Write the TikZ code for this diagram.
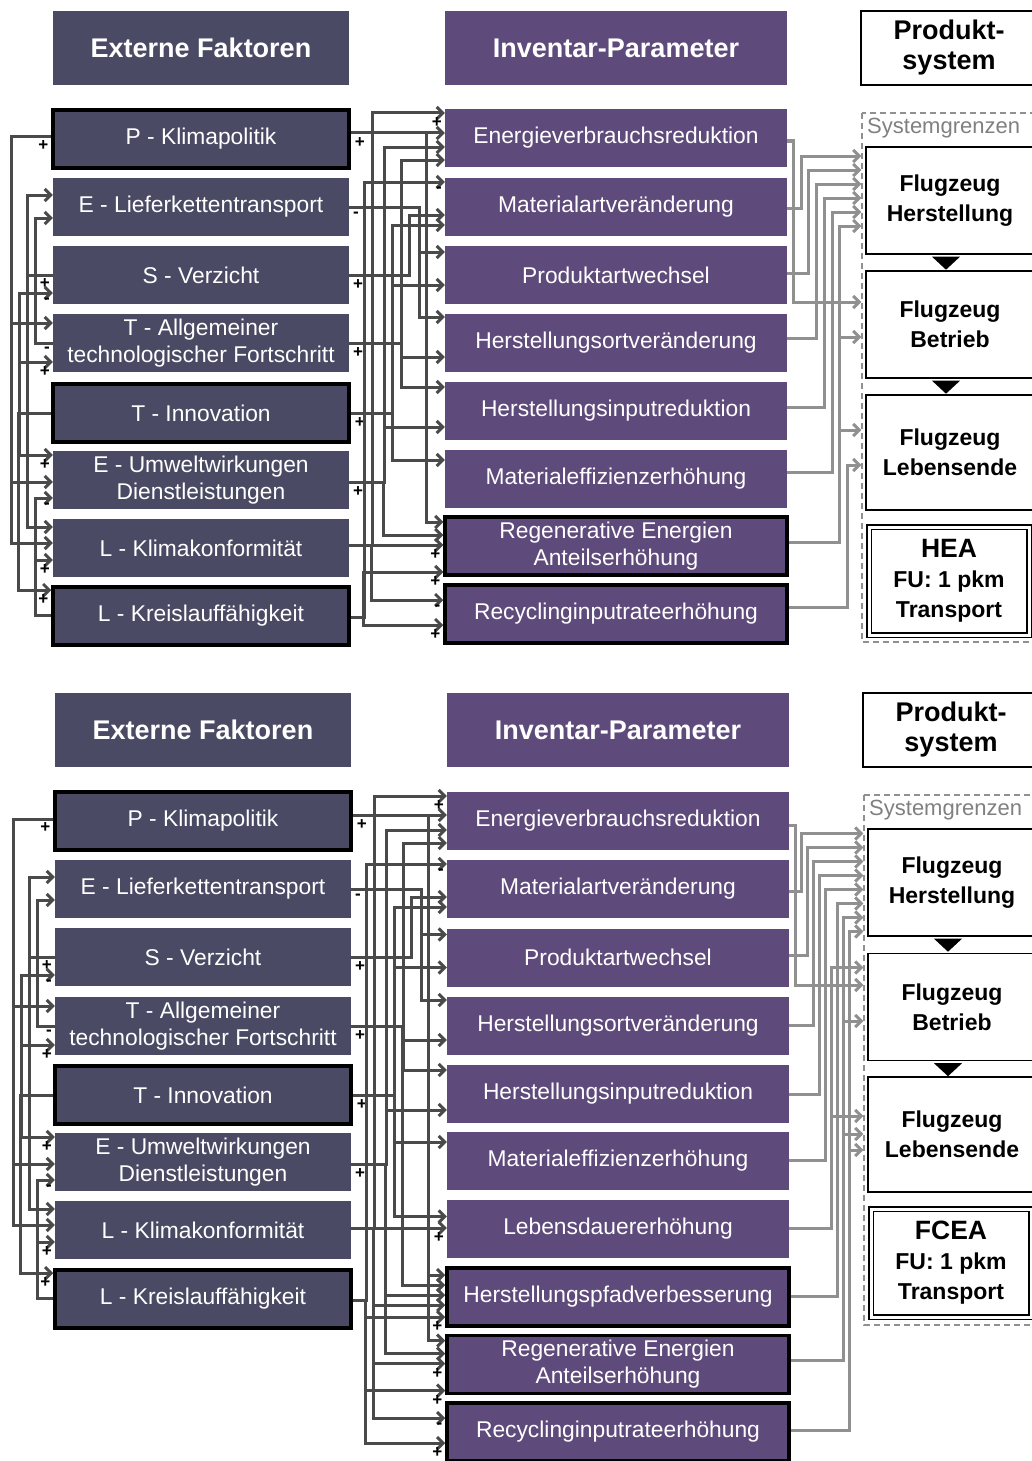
\documentclass[tikz,border=0pt]{standalone}
\usepackage{fontspec}
\setmainfont{Liberation Sans}
\usetikzlibrary{calc, arrows.meta, positioning}
\definecolor{extcol}{HTML}{4A4A64}
\definecolor{invcol}{HTML}{5F4B7B}
\definecolor{linkcol}{HTML}{4A4A4A}
\definecolor{flowcol}{HTML}{909090}
\definecolor{sgtext}{HTML}{808080}

\begin{document}
\begin{tikzpicture}[x=1pt, y=-1pt,
    extbox/.style={fill=extcol, text=white, minimum width=296pt, minimum height=58pt,
                   inner sep=0pt, align=center, font=\fontsize{22.8}{27}\selectfont},
    invbox/.style={fill=invcol, text=white, minimum width=342pt, minimum height=58pt,
                   inner sep=0pt, align=center, font=\fontsize{22.8}{27}\selectfont},
    key/.style={draw=black, line width=3.5pt},
    headbox/.style={text=white, minimum height=74pt, inner sep=0pt,
                    font=\fontsize{27}{30}\selectfont\bfseries},
    sysbox/.style={draw=black, line width=1.4pt, fill=white, minimum width=168pt,
                   inner sep=0pt, align=center, font=\fontsize{23}{30}\selectfont\bfseries},
    bound/.style={draw=flowcol, line width=1.2pt, dash pattern=on 6pt off 4pt},
    link/.style={draw=linkcol, line width=3pt, -{Straight Barb[length=6pt,width=12pt]}},
    flow/.style={draw=flowcol, line width=3pt, -{Straight Barb[length=6pt,width=12pt]}},
    sgn/.style={font=\fontsize{17}{17}\selectfont\bfseries, inner sep=0.5pt}]

  \useasboundingbox (0,0) rectangle (1032,1461);
  \clip (0,0) rectangle (1032,1461);

  % ---------------- oberes Szenario (HEA) ----------------
  \node[headbox, fill=extcol, minimum width=296pt] (tHext) at (201,48) {Externe Faktoren};
  \node[headbox, fill=invcol, minimum width=342pt] (tHinv) at (616,48) {Inventar-Parameter};
  \node[sysbox, minimum width=176pt, minimum height=74pt,
        font=\fontsize{27}{30}\selectfont\bfseries] (tHsys) at (949,48) {Produkt-\\system};

  \node[extbox, key] (tP)  at (201,139) {P - Klimapolitik};
  \node[extbox]      (tE)  at (201,207) {E - Lieferkettentransport};
  \node[extbox]      (tS)  at (201,275) {S - Verzicht};
  \node[extbox]      (tTA) at (201,343) {T - Allgemeiner\\technologischer Fortschritt};
  \node[extbox, key] (tTI) at (201,413) {T - Innovation};
  \node[extbox]      (tEU) at (201,480) {E - Umweltwirkungen\\Dienstleistungen};
  \node[extbox]      (tLK) at (201,548) {L - Klimakonformität};
  \node[extbox, key] (tLR) at (201,616) {L - Kreislauffähigkeit};

  \node[invbox]      (tEn) at (616,138) {Energieverbrauchsreduktion};
  \node[invbox]      (tMa) at (616,207) {Materialartveränderung};
  \node[invbox]      (tPr) at (616,275) {Produktartwechsel};
  \node[invbox]      (tHo) at (616,343) {Herstellungsortveränderung};
  \node[invbox]      (tHi) at (616,411) {Herstellungsinputreduktion};
  \node[invbox]      (tMe) at (616,479) {Materialeffizienzerhöhung};
  \node[invbox, key] (tRe) at (616,546) {Regenerative Energien\\Anteilserhöhung};
  \node[invbox, key] (tRc) at (616,614) {Recyclinginputrateerhöhung};

  \draw[bound] (862,113) rectangle (1040,642);
  \node[anchor=west, inner sep=0pt, text=sgtext, font=\fontsize{22}{24}\selectfont]
        (tSg) at (867,128) {Systemgrenzen};
  \node[sysbox, minimum height=107pt] (tFH) at (950,200.5) {Flugzeug\\Herstellung};
  \node[sysbox, minimum height=107pt] (tFB) at (950,324.5) {Flugzeug\\Betrieb};
  \node[sysbox, minimum height=115pt] (tFL) at (950,452.5) {Flugzeug\\Lebensende};
  \node[sysbox, double, double distance=3pt, line width=1.2pt, minimum width=160pt,
        minimum height=108pt] (tHEA) at (949,581)
        {{\fontsize{26.5}{30}\selectfont HEA}\\FU: 1 pkm\\Transport};
  \fill (tFH.south) ++(-18,2) -- ++(28,0) -- ++(-14,13) -- cycle;
  \fill (tFB.south) ++(-18,2) -- ++(28,0) -- ++(-14,13) -- cycle;

  % Rückkopplungen externe Faktoren
  \draw[link] ($(tP.west)+(0,-2)$) node[sgn, below left=2pt and 1pt]{+} -| ($(tTA.west)+(-41,-20)$) -- ($(tTA.west)+(0,-20)$);
  \draw[link] ($(tP.west)+(0,-2)$) -| ($(tEU.west)+(-41,2)$) -- ($(tEU.west)+(0,2)$);
  \draw[link] ($(tP.west)+(0,-2)$) -| ($(tLK.west)+(-41,-5)$) -- ($(tLK.west)+(0,-5)$);
  \draw[link] (tS.west) node[sgn, below left=2pt and 1pt]{+} -| ($(tE.west)+(-25,-12)$) -- ($(tE.west)+(0,-12)$);
  \draw[link] (tS.west) -| ($(tLK.west)+(-25,-21)$) -- ($(tLK.west)+(0,-21)$);
  \draw[link] (tTA.west) node[sgn, below left=2pt and 1pt]{-} -| ($(tE.west)+(-17,11)$) -- ($(tE.west)+(0,11)$);
  \draw[link] (tTI.west) -| ($(tS.west)+(-33,18)$) -- ($(tS.west)+(0,18)$) node[sgn, below left=3pt and 1pt]{-};
  \draw[link] (tTI.west) -| ($(tTA.west)+(-33,19)$) -- ($(tTA.west)+(0,19)$) node[sgn, below left=3pt and 1pt]{+};
  \draw[link] (tTI.west) -| ($(tEU.west)+(-33,-25)$) -- ($(tEU.west)+(0,-25)$) node[sgn, below left=3pt and 1pt]{+};
  \draw[link] (tTI.west) -| ($(tLR.west)+(-33,-26)$) -- ($(tLR.west)+(0,-26)$) node[sgn, below left=3pt and 1pt]{+};
  \draw[link] ($(tLR.west)+(0,-1)$) -| ($(tEU.west)+(-17,18)$) -- ($(tEU.west)+(0,18)$) node[sgn, below left=3pt and 1pt]{-};
  \draw[link] ($(tLR.west)+(0,-1)$) -| ($(tLK.west)+(-17,12)$) -- ($(tLK.west)+(0,12)$) node[sgn, below left=3pt and 1pt]{+};

  % externe Faktoren -> Inventar-Parameter
  \draw[link] ($(tP.east)+(0,-6)$) node[sgn, below right=3pt and 2pt]{+} -- ($(tEn.west)+(0,-5)$);
  \draw[link] ($(tP.east)+(0,-6)$) -| ($(tRe.west)+(-17,-24)$) -- ($(tRe.west)+(0,-24)$);
  \draw[link] (tE.east) node[sgn, below right=3pt and 2pt]{-} -| ($(tPr.west)+(-25,-23)$) -- ($(tPr.west)+(0,-23)$);
  \draw[link] (tE.east) -| ($(tHo.west)+(-25,-26)$) -- ($(tHo.west)+(0,-26)$);
  \draw[link] (tS.east) node[sgn, below right=3pt and 2pt]{+} -| ($(tMa.west)+(-35,8)$) -- ($(tMa.west)+(0,8)$);
  \draw[link] (tTA.east) node[sgn, below right=3pt and 2pt]{+} -| ($(tEn.west)+(-43,22)$) -- ($(tEn.west)+(0,22)$);
  \draw[link] (tTA.east) -| ($(tHo.west)+(-43,14)$) -- ($(tHo.west)+(0,14)$);
  \draw[link] (tTA.east) -| ($(tHi.west)+(-43,-24)$) -- ($(tHi.west)+(0,-24)$);
  \draw[link] (tTI.east) node[sgn, below right=3pt and 2pt]{+} -| ($(tMa.west)+(-52,18)$) -- ($(tMa.west)+(0,18)$);
  \draw[link] (tTI.east) -| ($(tPr.west)+(-52,10)$) -- ($(tPr.west)+(0,10)$);
  \draw[link] (tTI.east) -| ($(tMe.west)+(-52,-19)$) -- ($(tMe.west)+(0,-19)$);
  \draw[link] ($(tEU.east)+(0,2)$) node[sgn, below right=3pt and 2pt]{+} -| ($(tEn.west)+(-60,9)$) -- ($(tEn.west)+(0,9)$);
  \draw[link] ($(tEU.east)+(0,2)$) -| ($(tHi.west)+(-60,16)$) -- ($(tHi.west)+(0,16)$);
  \draw[link] ($(tEU.east)+(0,2)$) -| ($(tRe.west)+(-60,-11)$) -- ($(tRe.west)+(0,-11)$);
  \draw[link] ($(tLK.east)+(0,-3)$) -- ($(tRe.west)+(0,-1)$) node[sgn, below left=3pt and 1pt]{+};
  \draw[link] ($(tLK.east)+(0,-3)$) -| ($(tEn.west)+(-72,-25)$) -- ($(tEn.west)+(0,-25)$) node[sgn, below left=3pt and 1pt]{+};
  \draw[link] ($(tLK.east)+(0,-3)$) -| ($(tRc.west)+(-72,-14)$) -- ($(tRc.west)+(0,-14)$) node[sgn, below left=3pt and 1pt]{-};
  \draw[link] ($(tLR.east)+(0,1)$) -| ($(tMa.west)+(-80,-25)$) -- ($(tMa.west)+(0,-25)$) node[sgn, below left=3pt and 1pt]{-};
  \draw[link] ($(tLR.east)+(0,1)$) -| ($(tRe.west)+(-80,26)$) -- ($(tRe.west)+(0,26)$) node[sgn, below left=3pt and 1pt]{+};
  \draw[link] ($(tLR.east)+(0,1)$) -| ($(tRc.west)+(-80,11)$) -- ($(tRc.west)+(0,11)$) node[sgn, below left=3pt and 1pt]{+};

  % Inventar-Parameter -> Produktsystem
  \draw[flow] ($(tEn.east)+(0,3)$) -| ($(tFB.west)+(-72,-22.5)$) -- ($(tFB.west)+(-4,-22.5)$);
  \draw[flow] ($(tMa.east)+(0,1)$) -| ($(tFH.west)+(-64,-44.5)$) -- ($(tFH.west)+(-4,-44.5)$);
  \draw[flow] ($(tPr.east)+(0,-2)$) -| ($(tFH.west)+(-57,-30.5)$) -- ($(tFH.west)+(-4,-30.5)$);
  \draw[flow] ($(tHo.east)+(0,-5)$) -| ($(tFH.west)+(-49,-16.5)$) -- ($(tFH.west)+(-4,-16.5)$);
  \draw[flow] ($(tHi.east)+(0,-4)$) -| ($(tFH.west)+(-41,-2.5)$) -- ($(tFH.west)+(-4,-2.5)$);
  \draw[flow] ($(tMe.east)+(0,-7)$) -| ($(tFH.west)+(-33,11.5)$) -- ($(tFH.west)+(-4,11.5)$);
  \draw[flow] ($(tRe.east)+(0,-4)$) -| ($(tFH.west)+(-26,25.5)$) -- ($(tFH.west)+(-4,25.5)$);
  \draw[flow] ($(tRe.east)+(0,-4)$) -| ($(tFB.west)+(-26,12.5)$) -- ($(tFB.west)+(-4,12.5)$);
  \draw[flow] ($(tRe.east)+(0,-4)$) -| ($(tFL.west)+(-26,-22.5)$) -- ($(tFL.west)+(-4,-22.5)$);
  \draw[flow] ($(tRc.east)+(0,-7)$) -| ($(tFL.west)+(-18,12.5)$) -- ($(tFL.west)+(-4,12.5)$);

  % ---------------- unteres Szenario (FCEA) ----------------
  \node[headbox, fill=extcol, minimum width=296pt] (bHext) at (203,730) {Externe Faktoren};
  \node[headbox, fill=invcol, minimum width=342pt] (bHinv) at (618,730) {Inventar-Parameter};
  \node[sysbox, minimum width=176pt, minimum height=74pt,
        font=\fontsize{27}{30}\selectfont\bfseries] (bHsys) at (951,730) {Produkt-\\system};

  \node[extbox, key] (bP)  at (203,821) {P - Klimapolitik};
  \node[extbox]      (bE)  at (203,889) {E - Lieferkettentransport};
  \node[extbox]      (bS)  at (203,957) {S - Verzicht};
  \node[extbox]      (bTA) at (203,1026) {T - Allgemeiner\\technologischer Fortschritt};
  \node[extbox, key] (bTI) at (203,1095) {T - Innovation};
  \node[extbox]      (bEU) at (203,1162) {E - Umweltwirkungen\\Dienstleistungen};
  \node[extbox]      (bLK) at (203,1230) {L - Klimakonformität};
  \node[extbox, key] (bLR) at (203,1299) {L - Kreislauffähigkeit};

  \node[invbox]      (bEn) at (618,821) {Energieverbrauchsreduktion};
  \node[invbox]      (bMa) at (618,889) {Materialartveränderung};
  \node[invbox]      (bPr) at (618,957.5) {Produktartwechsel};
  \node[invbox]      (bHo) at (618,1026) {Herstellungsortveränderung};
  \node[invbox]      (bHi) at (618,1094) {Herstellungsinputreduktion};
  \node[invbox]      (bMe) at (618,1161) {Materialeffizienzerhöhung};
  \node[invbox]      (bLd) at (618,1228.5) {Lebensdauererhöhung};
  \node[invbox, key] (bHp) at (618,1297) {Herstellungspfadverbesserung};
  \node[invbox, key] (bRe) at (618,1364.5) {Regenerative Energien\\Anteilserhöhung};
  \node[invbox, key] (bRc) at (618,1432) {Recyclinginputrateerhöhung};

  \draw[bound] (864,795) rectangle (1042,1325);
  \node[anchor=west, inner sep=0pt, text=sgtext, font=\fontsize{22}{24}\selectfont]
        (bSg) at (869,810) {Systemgrenzen};
  \node[sysbox, minimum height=107pt] (bFH) at (952,882.5) {Flugzeug\\Herstellung};
  \node[sysbox, minimum height=107pt] (bFB) at (952,1007) {Flugzeug\\Betrieb};
  \node[sysbox, minimum height=115pt] (bFL) at (952,1134.5) {Flugzeug\\Lebensende};
  \node[sysbox, double, double distance=3pt, line width=1.2pt, minimum width=160pt,
        minimum height=108pt] (bFCEA) at (951,1263)
        {{\fontsize{26.5}{30}\selectfont FCEA}\\FU: 1 pkm\\Transport};
  \fill (bFH.south) ++(-18,2) -- ++(28,0) -- ++(-14,13) -- cycle;
  \fill (bFB.south) ++(-18,2) -- ++(28,0) -- ++(-14,13) -- cycle;

  % Rückkopplungen externe Faktoren
  \draw[link] ($(bP.west)+(0,-2)$) node[sgn, below left=2pt and 1pt]{+} -| ($(bTA.west)+(-41,-20)$) -- ($(bTA.west)+(0,-20)$);
  \draw[link] ($(bP.west)+(0,-2)$) -| ($(bEU.west)+(-41,2)$) -- ($(bEU.west)+(0,2)$);
  \draw[link] ($(bP.west)+(0,-2)$) -| ($(bLK.west)+(-41,-5)$) -- ($(bLK.west)+(0,-5)$);
  \draw[link] (bS.west) node[sgn, below left=2pt and 1pt]{+} -| ($(bE.west)+(-25,-12)$) -- ($(bE.west)+(0,-12)$);
  \draw[link] (bS.west) -| ($(bLK.west)+(-25,-21)$) -- ($(bLK.west)+(0,-21)$);
  \draw[link] (bTA.west) node[sgn, below left=2pt and 1pt]{-} -| ($(bE.west)+(-17,11)$) -- ($(bE.west)+(0,11)$);
  \draw[link] (bTI.west) -| ($(bS.west)+(-33,18)$) -- ($(bS.west)+(0,18)$) node[sgn, below left=3pt and 1pt]{-};
  \draw[link] (bTI.west) -| ($(bTA.west)+(-33,19)$) -- ($(bTA.west)+(0,19)$) node[sgn, below left=3pt and 1pt]{+};
  \draw[link] (bTI.west) -| ($(bEU.west)+(-33,-25)$) -- ($(bEU.west)+(0,-25)$) node[sgn, below left=3pt and 1pt]{+};
  \draw[link] (bTI.west) -| ($(bLR.west)+(-33,-26)$) -- ($(bLR.west)+(0,-26)$) node[sgn, below left=3pt and 1pt]{+};
  \draw[link] ($(bLR.west)+(0,-1)$) -| ($(bEU.west)+(-17,18)$) -- ($(bEU.west)+(0,18)$) node[sgn, below left=3pt and 1pt]{-};
  \draw[link] ($(bLR.west)+(0,-1)$) -| ($(bLK.west)+(-17,12)$) -- ($(bLK.west)+(0,12)$) node[sgn, below left=3pt and 1pt]{+};

  % externe Faktoren -> Inventar-Parameter
  \draw[link] ($(bP.east)+(0,-6)$) node[sgn, below right=3pt and 2pt]{+} -- ($(bEn.west)+(0,-6)$);
  \draw[link] ($(bP.east)+(0,-6)$) -| ($(bHp.west)+(-17,-22)$) -- ($(bHp.west)+(0,-22)$);
  \draw[link] ($(bP.east)+(0,-6)$) -| ($(bRe.west)+(-17,-24)$) -- ($(bRe.west)+(0,-24)$);
  \draw[link] (bE.east) node[sgn, below right=3pt and 2pt]{-} -| ($(bPr.west)+(-25,-23)$) -- ($(bPr.west)+(0,-23)$);
  \draw[link] (bE.east) -| ($(bHo.west)+(-25,-26)$) -- ($(bHo.west)+(0,-26)$);
  \draw[link] (bS.east) node[sgn, below right=3pt and 2pt]{+} -| ($(bMa.west)+(-35,8)$) -- ($(bMa.west)+(0,8)$);
  \draw[link] (bTA.east) node[sgn, below right=3pt and 2pt]{+} -| ($(bEn.west)+(-43,22)$) -- ($(bEn.west)+(0,22)$);
  \draw[link] (bTA.east) -| ($(bHo.west)+(-43,14)$) -- ($(bHo.west)+(0,14)$);
  \draw[link] (bTA.east) -| ($(bHi.west)+(-43,-24)$) -- ($(bHi.west)+(0,-24)$);
  \draw[link] (bTA.east) -| ($(bHp.west)+(-43,-12)$) -- ($(bHp.west)+(0,-12)$);
  \draw[link] (bTI.east) node[sgn, below right=3pt and 2pt]{+} -| ($(bMa.west)+(-52,18)$) -- ($(bMa.west)+(0,18)$);
  \draw[link] (bTI.east) -| ($(bPr.west)+(-52,10)$) -- ($(bPr.west)+(0,10)$);
  \draw[link] (bTI.east) -| ($(bMe.west)+(-52,-19)$) -- ($(bMe.west)+(0,-19)$);
  \draw[link] (bTI.east) -| ($(bLd.west)+(-52,-12)$) -- ($(bLd.west)+(0,-12)$);
  \draw[link] ($(bEU.east)+(0,2)$) node[sgn, below right=3pt and 2pt]{+} -| ($(bEn.west)+(-60,9)$) -- ($(bEn.west)+(0,9)$);
  \draw[link] ($(bEU.east)+(0,2)$) -| ($(bHi.west)+(-60,16)$) -- ($(bHi.west)+(0,16)$);
  \draw[link] ($(bEU.east)+(0,2)$) -| ($(bHp.west)+(-60,-2)$) -- ($(bHp.west)+(0,-2)$);
  \draw[link] ($(bEU.east)+(0,2)$) -| ($(bRe.west)+(-60,-11)$) -- ($(bRe.west)+(0,-11)$);
  \draw[link] ($(bLK.east)+(0,-2)$) -- ($(bLd.west)+(0,-0.5)$) node[sgn, below left=3pt and 1pt]{+};
  \draw[link] ($(bLK.east)+(0,-2)$) -| ($(bEn.west)+(-72,-25)$) -- ($(bEn.west)+(0,-25)$) node[sgn, below left=3pt and 1pt]{+};
  \draw[link] ($(bLK.east)+(0,-2)$) -| ($(bHp.west)+(-72,8)$) -- ($(bHp.west)+(0,8)$);
  \draw[link] ($(bLK.east)+(0,-2)$) -| ($(bRe.west)+(-72,-1)$) -- ($(bRe.west)+(0,-1)$) node[sgn, below left=3pt and 1pt]{+};
  \draw[link] ($(bLK.east)+(0,-2)$) -| ($(bRc.west)+(-72,-14)$) -- ($(bRc.west)+(0,-14)$) node[sgn, below left=3pt and 1pt]{-};
  \draw[link] ($(bLR.east)+(0,1)$) -| ($(bMa.west)+(-80,-25)$) -- ($(bMa.west)+(0,-25)$) node[sgn, below left=3pt and 1pt]{-};
  \draw[link] ($(bLR.east)+(0,1)$) -| ($(bHp.west)+(-80,20)$) -- ($(bHp.west)+(0,20)$) node[sgn, below left=3pt and 1pt]{+};
  \draw[link] ($(bLR.east)+(0,1)$) -| ($(bRe.west)+(-80,26)$) -- ($(bRe.west)+(0,26)$) node[sgn, below left=3pt and 1pt]{+};
  \draw[link] ($(bLR.east)+(0,1)$) -| ($(bRc.west)+(-80,11)$) -- ($(bRc.west)+(0,11)$) node[sgn, below left=3pt and 1pt]{+};

  % Inventar-Parameter -> Produktsystem
  \draw[flow] ($(bEn.east)+(0,4)$) -| ($(bFB.west)+(-72,-22)$) -- ($(bFB.west)+(-4,-22)$);
  \draw[flow] ($(bMa.east)+(0,2)$) -| ($(bFH.west)+(-66,-49)$) -- ($(bFH.west)+(-4,-49)$);
  \draw[flow] ($(bPr.east)+(0,-2)$) -| ($(bFH.west)+(-60,-35)$) -- ($(bFH.west)+(-4,-35)$);
  \draw[flow] ($(bHo.east)+(0,-1)$) -| ($(bFH.west)+(-54,-21)$) -- ($(bFH.west)+(-4,-21)$);
  \draw[flow] (bHi.east) -| ($(bFH.west)+(-48,-7)$) -- ($(bFH.west)+(-4,-7)$);
  \draw[flow] ($(bMe.east)+(0,-1)$) -| ($(bFH.west)+(-42,7)$) -- ($(bFH.west)+(-4,7)$);
  \draw[flow] (bLd.east) -| ($(bFB.west)+(-36,-39.5)$) -- ($(bFB.west)+(-4,-39.5)$);
  \draw[flow] (bLd.east) -| ($(bFL.west)+(-36,-18.5)$) -- ($(bFL.west)+(-4,-18.5)$);
  \draw[flow] ($(bHp.east)+(0,-1)$) -| ($(bFH.west)+(-30,21)$) -- ($(bFH.west)+(-4,21)$);
  \draw[flow] ($(bRe.east)+(0,-4)$) -| ($(bFH.west)+(-24,35)$) -- ($(bFH.west)+(-4,35)$);
  \draw[flow] ($(bRe.east)+(0,-4)$) -| ($(bFB.west)+(-24,14)$) -- ($(bFB.west)+(-4,14)$);
  \draw[flow] ($(bRe.east)+(0,-4)$) -| ($(bFL.west)+(-24,-0.5)$) -- ($(bFL.west)+(-4,-0.5)$);
  \draw[flow] ($(bRc.east)+(0,-2)$) -| ($(bFH.west)+(-18,49)$) -- ($(bFH.west)+(-4,49)$);
  \draw[flow] ($(bRc.east)+(0,-2)$) -| ($(bFL.west)+(-18,15.5)$) -- ($(bFL.west)+(-4,15.5)$);
\end{tikzpicture}
\end{document}
